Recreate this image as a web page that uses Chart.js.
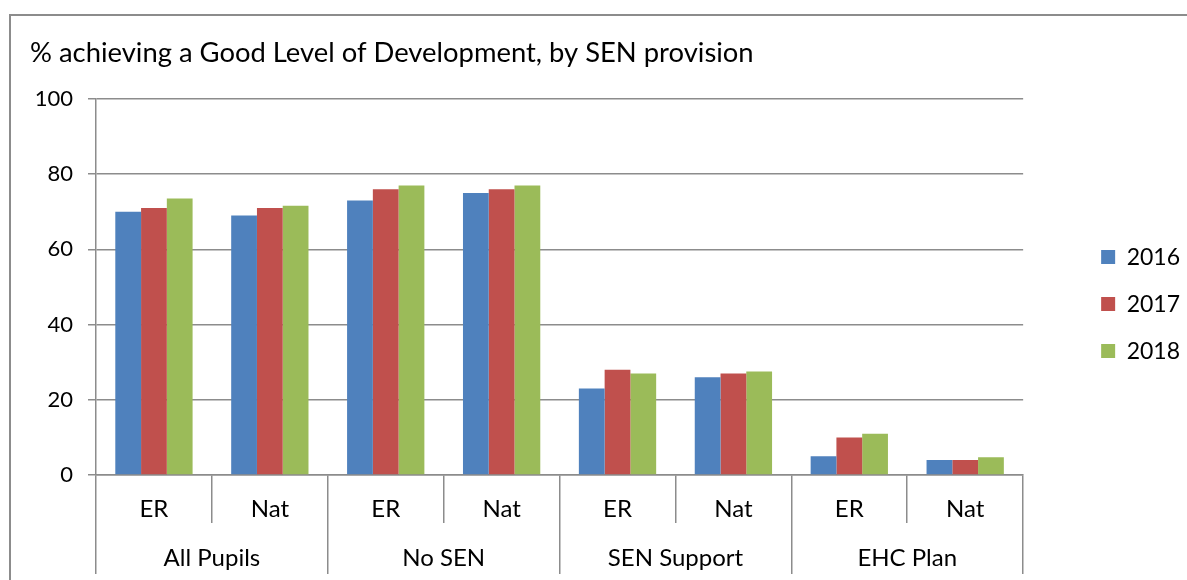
<!DOCTYPE html>
<html>
<head>
<meta charset="utf-8">
<title>% achieving a Good Level of Development, by SEN provision</title>
<script src="https://cdn.jsdelivr.net/npm/chart.js@4"></script>
<style>
    body { margin: 0; background: #fff; }
    #wrap { position: relative; width: 1187px; height: 580px; overflow: hidden; }
    #frame { position: absolute; left: 9px; top: 14px; width: 1200px; height: 600px;
             border-left: 2px solid #8c8c8c; border-top: 2px solid #8c8c8c; }
    #chart { position: absolute; left: 0; top: 0; }
</style>
</head>
<body>
<div id="wrap">
    <div id="frame"></div>
    <canvas id="chart" width="1187" height="580"></canvas>
</div>
<script>
// Chart data
var groups = ['All Pupils', 'No SEN', 'SEN Support', 'EHC Plan'];
var areas = ['ER', 'Nat', 'ER', 'Nat', 'ER', 'Nat', 'ER', 'Nat'];
var years = ['2016', '2017', '2018'];
var values2016 = [70, 69, 73, 75, 23, 26, 5, 4];
var values2017 = [71, 71, 76, 76, 28, 27, 10, 4];
var values2018 = [73.5, 71.6, 77, 77, 27, 27.5, 11, 4.7];
var yTicks = [0, 20, 40, 60, 80, 100];

var colors = ['#4F81BD', '#C0504D', '#9BBB59'];
var lineColor = '#8c8c8c';
var fontFamily = 'Lato, "Open Sans", sans-serif';

var ctx = document.getElementById('chart');
var chart = new Chart(ctx, {
    type: 'bar',
    data: {
        labels: areas,
        datasets: [
            { label: years[0], data: values2016, backgroundColor: colors[0] },
            { label: years[1], data: values2017, backgroundColor: colors[1] },
            { label: years[2], data: values2018, backgroundColor: colors[2] }
        ]
    },
    options: {
        responsive: false,
        animation: false,
        categoryPercentage: 0.667,
        barPercentage: 1,
        layout: { padding: { left: 30, right: -3, top: 0, bottom: 6 } },
        plugins: {
            title: {
                display: true,
                text: '% achieving a Good Level of Development, by SEN provision',
                align: 'start',
                color: '#000',
                font: { family: fontFamily, size: 27.4, weight: 'normal' },
                padding: { top: 37, bottom: 29 }
            },
            legend: {
                position: 'right',
                // blank title only pushes the items down a little
                title: { display: true, text: ' ', font: { size: 1 }, padding: { top: 33, bottom: 0 } },
                labels: {
                    boxWidth: 14,
                    boxHeight: 14,
                    padding: 24,
                    color: '#000',
                    font: { family: fontFamily, size: 23 }
                }
            },
            tooltip: { enabled: false }
        },
        scales: {
            x: {
                position: 'bottom',
                grid: { offset: true, drawOnChartArea: false, tickLength: 48, color: lineColor, lineWidth: 1.5 },
                border: { color: lineColor, width: 1.5 },
                ticks: { color: '#000', padding: -28, font: { family: fontFamily, size: 24 } },
                afterFit: function (scale) { scale.height = 48; }
            },
            x2: {
                type: 'category',
                labels: groups,
                position: 'bottom',
                offset: true,
                grid: { offset: true, drawOnChartArea: false, tickLength: 51, color: lineColor, lineWidth: 1.5 },
                border: { display: false },
                ticks: { color: '#000', padding: -30, font: { family: fontFamily, size: 24 } },
                afterFit: function (scale) { scale.height = 51; }
            },
            y: {
                min: 0,
                max: 100,
                afterBuildTicks: function (scale) {
                    scale.ticks = yTicks.map(function (v) { return { value: v }; });
                },
                grid: { color: lineColor, lineWidth: 1.5, tickLength: 8 },
                border: { color: lineColor, width: 1.5 },
                ticks: { color: '#000', padding: 15, font: { family: fontFamily, size: 22 } },
                afterFit: function (scale) { scale.width = 66; }
            },
            // empty axis, keeps the gap between plot and legend
            yGap: {
                position: 'right',
                display: true,
                grid: { display: false, drawOnChartArea: false },
                border: { display: false },
                ticks: { display: false },
                afterFit: function (scale) { scale.width = 54; }
            }
        }
    }
});
</script>
</body>
</html>
